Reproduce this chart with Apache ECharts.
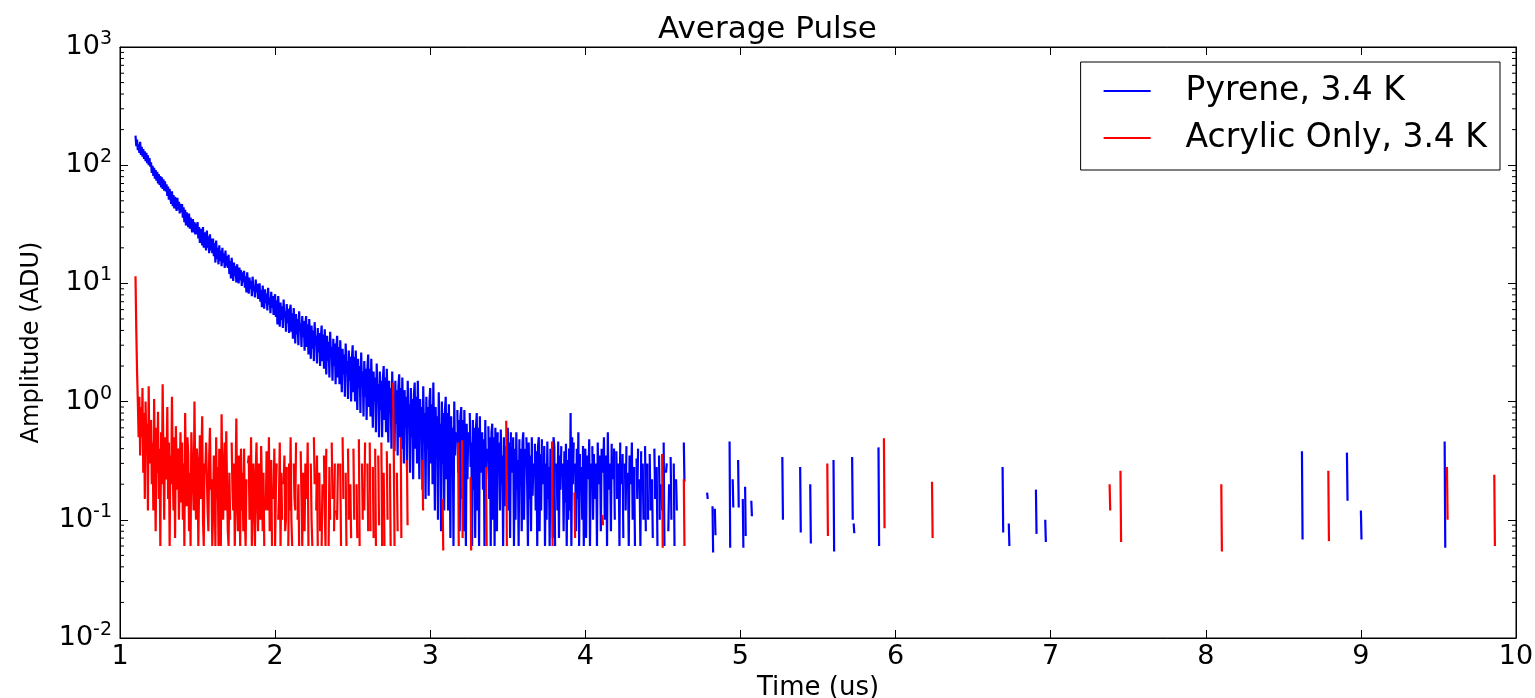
<!DOCTYPE html>
<html>
<head>
<meta charset="utf-8">
<script src="https://cdn.jsdelivr.net/npm/echarts@6/dist/echarts.min.js"></script>
<style>
html,body{margin:0;padding:0;background:#fff;}
#chart{width:1535px;height:698px;}
</style>
</head>
<body>
<div id="chart"></div>
<script>
const _ = null;
// sample grid of the dense part of the traces (us)
const denseStart = 1.10;
const denseStep = 0.005;
const spikeStep = 0.004;

const seriesNames = ['Pyrene, 3.4 K', 'Acrylic Only, 3.4 K'];
const xTickLabels = ['1','2','3','4','5','6','7','8','9','10'];
const yTickExponents = ['-2','-1','0','1','2','3'];
const yMinorMultipliers = [2,3,4,5,6,7,8,9];
const yDecades = [0.01,0.1,1,10,100];

// Pyrene amplitude (ADU), t = 1.100 ... 4.600 step 0.005 (one row = 0.1 us)
const pyreneDense = [
178,145,165,134,150,127,158,122,143,118,137,113,131,108,127,104,121,100,115,97,
106,86,99,81,95,77,91,74,88,70,84,68,81,65,79,63,76,61,73,60,
69,55,66,51,63,53,47,60,45,56,43,54,46,41,53,42,49,39,47,40,
47,36,44,33,42,31,40,34,30,39,29,36,31,27,35,27,33,26,32,26,
33,24,30,22,29,24,21,30,20,27,22,19,28,20,25,18,26,19,24,18,
24,17,22,15,23,16,20,14.5,21,15.5,19,14,20,15,18,13.5,19,14,17,13.5,
17.5,12,15.5,11,16.5,12.5,10.5,15,11.5,14,10.2,14.5,11.5,10,13.6,10.6,13,9.5,12.4,10.2,
12.8,9.2,11.5,8.4,12.4,9.8,8.2,11.2,9,10.5,7.8,11.4,8.6,9.6,7.6,10.8,8.4,9.9,7.4,9.2,
10,7,8.8,6.3,9.6,7.4,6.1,8.9,6.8,8.2,5.9,9.2,6.6,7.6,5.6,8.5,6.2,7.8,5.4,7.2,
8.1,5.2,7.2,4.5,7.8,5.6,4.3,6.9,4.9,6.4,4.2,7.3,5.1,5.8,3.9,6.7,4.6,6.1,3.8,5.9,
6.6,3.9,5.6,3.4,6.2,4.4,3.1,5.5,3.7,5.0,3.0,5.8,4.0,4.6,2.9,5.3,3.5,4.8,2.7,4.5,
5.3,2.9,4.5,2.5,5.0,3.3,2.3,4.4,2.8,4.0,2.2,4.7,3.0,3.6,2.1,4.2,2.6,3.8,2.0,3.5,
4.4,2.2,3.7,1.9,4.1,2.6,1.7,3.6,2.2,3.2,1.6,3.9,2.4,2.9,1.5,3.4,2.0,3.1,1.4,2.9,
3.6,1.6,2.9,1.4,3.3,2.0,1.2,2.8,1.7,2.5,1.1,3.1,1.8,2.2,1.05,2.7,1.5,2.4,1.0,2.3,
3.0,1.2,2.4,1.0,2.7,1.5,0.85,2.3,1.3,2.0,0.8,2.6,1.4,1.8,0.75,2.2,1.1,1.9,0.7,1.9,
2.5,0.9,1.9,0.75,2.3,1.2,0.6,1.8,1.0,1.6,0.55,2.1,1.1,1.4,0.5,1.8,0.85,1.5,0.5,1.6,
2.0,0.7,1.6,0.55,1.9,0.95,0.45,1.5,0.8,1.3,0.4,1.8,0.85,1.15,0.38,1.5,0.65,1.25,0.35,1.35,
1.7,0.5,1.3,0.4,1.6,0.75,0.3,1.25,0.6,1.1,0.28,1.5,0.7,0.95,0.25,1.3,0.5,1.05,0.22,1.15,
1.45,0.4,1.1,0.3,1.5,0.6,0.22,1.05,0.5,0.9,0.18,1.35,0.55,0.8,0.15,1.1,0.4,0.9,0.16,1.0,
1.3,0.3,0.95,0.2,1.45,0.5,0.12,0.9,0.4,0.75,0.1,1.2,0.45,0.65,0.08,1.0,0.3,0.8,0.12,0.85,
1.1,0.22,0.8,0.12,0.95,0.4,0.07,0.75,0.3,0.6,0.06,1.0,0.35,0.55,_,0.85,0.25,0.7,0.08,0.75,
0.9,0.15,0.7,0.08,0.85,0.3,0.06,0.65,0.22,0.55,_,0.8,0.28,0.45,0.06,0.7,0.18,0.6,0.07,0.6,
0.8,0.12,0.6,0.06,0.75,0.25,_,0.55,0.18,0.48,0.06,0.7,0.22,0.4,_,0.62,0.15,0.5,0.06,0.55,
0.65,0.1,0.5,0.06,0.6,0.2,0.08,0.55,_,0.45,0.12,0.58,0.2,0.35,0.06,0.5,0.13,0.42,_,0.5,
0.6,0.12,0.45,0.07,0.55,_,0.25,0.5,0.06,0.4,0.1,0.55,0.18,0.32,0.06,0.48,_,0.4,0.08,0.45,
0.55,0.1,0.4,_,0.5,0.2,0.06,0.45,0.15,0.35,0.08,0.5,0.16,0.3,_,0.44,0.12,0.38,0.06,0.42,
0.5,0.08,0.36,0.12,0.48,_,0.2,0.42,0.06,0.3,0.1,0.46,0.15,0.28,0.06,0.4,_,0.35,0.07,0.5,
0.42,0.06,_,0.3,0.12,0.46,0.07,0.35,0.18,0.42,_,0.3,0.08,0.38,0.14,0.44,0.06,0.32,0.1,0.4,
0.12,0.8,0.06,0.5,0.2,0.45,_,0.3,0.08,0.4,0.15,0.55,0.06,0.36,_,0.28,0.1,0.42,0.06,0.3,
0.4,0.07,0.35,_,0.22,0.48,0.06,0.3,_,0.42,0.1,0.36,0.15,_,0.3,0.06,0.45,0.2,_,0.35,
0.08,0.4,_,0.25,0.5,0.1,_,0.35,0.06,0.55,0.18,_,0.3,0.08,0.44,_,0.22,0.4,0.1,_,
0.38,0.15,_,0.3,0.06,0.45,_,0.2,0.36,0.07,_,0.3,0.12,0.42,_,0.25,0.06,0.35,_,0.2,
0.45,0.1,_,0.28,0.06,_,0.33,0.15,0.4,_,0.22,0.06,0.38,_,0.3,0.1,_,0.42,0.08,_,
0.3,0.1,_,0.36,0.12,_,0.22,0.07,_,0.4,0.15,_,0.28,0.06,_,0.35,0.1,_,0.2,0.12,
_,0.45,0.06,_,0.25,0.3,_,0.08,0.2,_,0.34,0.1,_,_,0.3,0.06,_,0.22,0.12,_,
0.06
];

// Acrylic amplitude (ADU), t = 1.100 ... 2.795 step 0.005 (one row = 0.1 us)
const acrylicDense = [
11.5,4.0,1.8,1.0,0.5,1.1,0.35,0.9,0.5,1.3,0.25,0.8,0.15,1.0,0.4,0.65,0.12,1.35,0.3,0.55,
0.7,0.2,0.45,0.12,1.05,0.3,0.08,0.6,0.25,0.82,0.15,0.4,0.06,0.55,0.2,1.4,0.35,0.1,0.5,0.22,
0.3,0.9,0.15,0.45,0.06,0.35,0.2,1.1,0.28,0.12,0.5,0.07,0.62,0.3,0.18,0.4,0.1,0.25,0.55,0.14,
0.45,0.1,0.3,0.06,0.8,0.22,0.13,0.5,0.36,0.08,0.25,0.06,0.55,0.3,0.2,0.12,1.0,0.25,0.1,0.4,
0.3,0.06,0.2,0.52,0.15,0.35,0.75,0.1,0.06,0.3,0.25,0.45,0.46,0.12,0.08,0.35,0.6,0.18,0.22,0.06,
0.12,0.35,0.2,0.06,0.5,0.15,0.28,0.06,0.4,0.1,0.06,0.78,0.22,0.1,0.28,0.45,0.12,0.56,0.2,0.08,
0.06,0.25,0.1,_,0.45,0.18,0.12,0.3,0.06,0.2,0.72,0.15,0.08,0.35,0.18,0.06,0.4,0.12,0.25,0.08,
0.4,0.1,0.06,0.22,_,0.3,0.35,0.1,0.15,0.5,0.06,0.2,0.3,0.12,0.06,0.25,0.45,0.15,0.08,0.3,
_,0.1,0.42,0.2,0.08,0.25,0.06,_,0.12,0.38,0.2,0.12,0.5,0.08,0.2,0.32,0.06,_,0.15,0.4,
0.06,0.18,0.3,_,0.1,0.15,0.45,0.06,0.25,0.1,_,0.2,0.35,0.08,0.1,0.28,_,0.06,0.3,0.12,
0.5,0.1,0.06,_,0.3,0.15,0.12,0.45,_,0.1,0.2,0.06,_,0.38,0.15,0.06,0.25,_,0.08,0.3,
_,0.15,0.45,0.06,_,_,0.3,0.1,0.06,_,0.5,0.2,_,0.12,0.35,0.06,_,0.25,0.08,_,
0.06,0.2,_,0.35,0.12,0.06,0.4,_,_,0.06,0.28,0.1,_,0.45,0.15,_,0.08,0.3,_,0.12,
0.1,0.3,_,_,0.3,0.06,_,0.5,0.15,_,_,0.25,0.06,_,0.4,0.1,_,0.2,0.07,_,
_,0.4,0.1,_,_,0.2,0.07,_,0.48,0.06,_,_,0.3,0.1,_,0.12,0.45,_,_,0.3,
0.08,_,0.45,0.08,_,_,0.28,0.07,_,0.4,0.06,_,_,0.35,0.09,_,_,0.45,0.06,_,
0.25,0.06,_,_,0.38,0.1,_,_,0.3,0.06,_,_,1.45,0.4,0.06,_,_,0.25,0.08,_
];

// isolated bursts: [start time, consecutive sample values...]
const pyreneSpikes = [
[4.635,0.45,0.21],[4.785,0.17,0.15],[4.82,0.13,0.053],[4.835,0.124,0.074],
[4.93,0.46,0.058],[4.95,0.22,0.127],[4.985,0.32,0.127],[5.015,0.15,0.058],
[5.03,0.19,0.073],[5.07,0.145,0.107],[5.27,0.34,0.1],[5.385,0.28,0.078],
[5.45,0.2,0.063],[5.60,0.32,0.054],[5.72,0.34,0.1],[5.73,0.093,0.077],
[5.89,0.41,0.06],[6.69,0.28,0.078],[6.73,0.093,0.06],[6.905,0.18,0.076],
[6.965,0.1,0.065],[8.62,0.38,0.068],[8.91,0.37,0.145],[9.0,0.12,0.068],
[9.54,0.46,0.058]
];
const acrylicSpikes = [
[2.81,0.5,0.07],[2.85,0.32,0.09],[2.95,0.32,0.12],[3.08,0.15,0.055],
[3.18,0.45,0.06],[3.205,0.47,0.07],[3.26,0.23,0.055],[3.36,0.28,0.06],
[3.49,0.69,0.06],[3.785,0.46,0.06],[3.93,0.17,0.07],[4.11,0.11,0.09],
[4.495,0.36,0.058],[4.635,0.22,0.06],[5.56,0.3,0.073],[5.925,0.49,0.085],
[6.235,0.21,0.07],[7.38,0.2,0.12],[7.45,0.26,0.065],[8.10,0.2,0.054],
[8.79,0.26,0.066],[9.555,0.28,0.1],[9.86,0.24,0.06]
];

function buildData(dense, spikes) {
  const out = [];
  dense.forEach((v, i) => out.push([+(denseStart + i * denseStep).toFixed(4), v == null ? '-' : v]));
  spikes.forEach(s => {
    out.push([s[0] - spikeStep, '-']);
    for (let k = 1; k < s.length; k++) out.push([s[0] + (k - 1) * spikeStep, s[k]]);
  });
  return out;
}

const minorTickData = [];
yDecades.forEach(d => yMinorMultipliers.forEach(m => minorTickData.push([1, d * m])));

const FONT = 'DejaVu Sans';
const chart = echarts.init(document.getElementById('chart'));
const yLabelRich = {
  b: {fontSize: 27, fontFamily: FONT, color: '#000'},
  s: {fontSize: 19, fontFamily: FONT, color: '#000', padding: [0, 0, 16, 0]}
};
chart.setOption({
  animation: false,
  backgroundColor: '#fff',
  title: {
    text: 'Average Pulse', left: 'center', top: 9,
    textStyle: {fontSize: 31, fontWeight: 'normal', fontFamily: FONT, color: '#000'}
  },
  legend: {
    data: seriesNames,
    orient: 'vertical',
    right: 35, top: 62,
    icon: 'rect',
    itemWidth: 47, itemHeight: 2, itemGap: 11,
    padding: [11, 13, 14, 23],
    borderColor: '#000', borderWidth: 1,
    textStyle: {fontSize: 33, fontFamily: FONT, color: '#000', lineHeight: 36, padding: [0, 0, 0, 30]}
  },
  grid: {left: 120, right: 19, top: 47, bottom: 60, containLabel: false, outerBoundsMode: 'none',
    show: true, borderColor: '#000', borderWidth: 1, backgroundColor: 'transparent'},
  xAxis: [{
    type: 'value', min: 1, max: 10, interval: 1, position: 'bottom',
    axisLine: {show: true, lineStyle: {color: '#000', width: 1}},
    axisTick: {inside: true, length: 8, lineStyle: {color: '#000'}},
    axisLabel: {fontSize: 27, fontFamily: FONT, color: '#000', margin: 5,
      formatter: (v) => xTickLabels[Math.round(v) - 1]},
    splitLine: {show: false},
    name: 'Time (us)', nameLocation: 'middle', nameGap: 31,
    nameTextStyle: {fontSize: 26, fontFamily: FONT, color: '#000'}
  }, {
    type: 'value', min: 1, max: 10, interval: 1, position: 'top',
    axisLine: {show: true, lineStyle: {color: '#000', width: 1}},
    axisTick: {inside: true, length: 8, lineStyle: {color: '#000'}},
    axisLabel: {show: false}, splitLine: {show: false}
  }],
  yAxis: [{
    type: 'log', logBase: 10, min: 0.01, max: 1000, position: 'left',
    axisLine: {show: true, lineStyle: {color: '#000', width: 1}},
    axisTick: {inside: true, length: 8, lineStyle: {color: '#000'}},
    axisLabel: {margin: 8, rich: yLabelRich,
      formatter: (v, i) => '{b|10}{s|' + yTickExponents[i] + '}'},
    splitLine: {show: false},
    name: 'Amplitude (ADU)', nameLocation: 'middle', nameGap: 76, nameRotate: 90,
    nameTextStyle: {fontSize: 24, fontFamily: FONT, color: '#000'}
  }, {
    type: 'log', logBase: 10, min: 0.01, max: 1000, position: 'right',
    axisLine: {show: true, lineStyle: {color: '#000', width: 1}},
    axisTick: {inside: true, length: 8, lineStyle: {color: '#000'}},
    axisLabel: {show: false}, splitLine: {show: false}
  }],
  series: [{
    name: seriesNames[0], type: 'line', xAxisIndex: 0, yAxisIndex: 0,
    data: buildData(pyreneDense, pyreneSpikes),
    showSymbol: false, symbol: 'none', connectNulls: false,
    lineStyle: {color: '#0000ff', width: 2.2}, itemStyle: {color: '#0000ff'}
  }, {
    name: seriesNames[1], type: 'line', xAxisIndex: 0, yAxisIndex: 0,
    data: buildData(acrylicDense, acrylicSpikes),
    showSymbol: false, symbol: 'none', connectNulls: false,
    lineStyle: {color: '#ff0000', width: 2.2}, itemStyle: {color: '#ff0000'}
  }, {
    type: 'custom', xAxisIndex: 0, yAxisIndex: 0, silent: true, clip: false,
    data: minorTickData,
    encode: {x: 0, y: 1},
    renderItem: function (params, api) {
      const cs = params.coordSys;
      const y = api.coord([1, api.value(1)])[1];
      const st = {stroke: '#000', lineWidth: 1};
      return {type: 'group', children: [
        {type: 'line', shape: {x1: cs.x, y1: y, x2: cs.x + 4, y2: y}, style: st},
        {type: 'line', shape: {x1: cs.x + cs.width - 4, y1: y, x2: cs.x + cs.width, y2: y}, style: st}
      ]};
    }
  }]
});
</script>
</body>
</html>
